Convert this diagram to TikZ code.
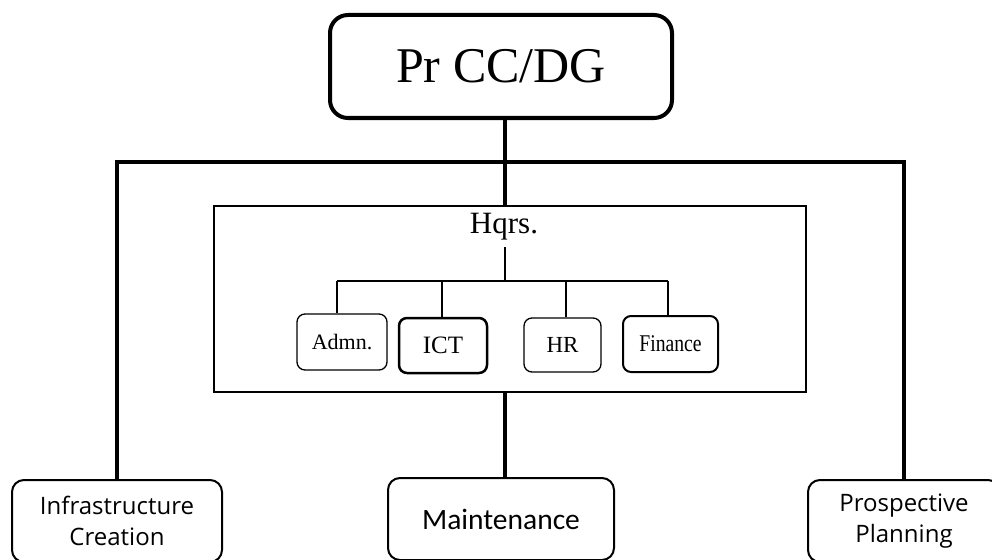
\documentclass[tikz,border=0pt]{standalone}
\usepackage{fontspec}
\usepackage{graphicx}
\setmainfont{Liberation Serif}
\newfontfamily\bodysans{Open Sans}
\newfontfamily\labelsans{Carlito}
\begin{document}
\begin{tikzpicture}[x=1pt,y=-1pt,
  chief/.style={draw, line width=4pt, rounded corners=18pt, inner sep=0pt,
    minimum width=342pt, minimum height=103pt, font=\fontsize{50}{56}\selectfont},
  office/.style={draw, line width=2pt, inner sep=0pt,
    minimum width=592pt, minimum height=186pt},
  unit/.style={draw, line width=1.3pt, rounded corners=8pt, inner sep=0pt},
  branch/.style={draw, line width=2pt, rounded corners=12pt, inner sep=0pt,
    align=center},
  trunk/.style={line width=4pt},
  twig/.style={line width=1.8pt}]
\useasboundingbox (0,0) rectangle (992,559);

% chief executive box
\node[chief] (top) at (501,66.5) {Pr CC/DG};

% headquarters frame and its sections
\node[office] (hq) at (510,299) {};
\node[font=\fontsize{31}{36}\selectfont, anchor=base] (hqlabel) at (504,233) {Hqrs.};

\node[unit, minimum width=90pt, minimum height=56pt,
  font=\fontsize{22}{26}\selectfont] (admn) at (342,342) {Admn.};
\node[unit, line width=2.5pt, minimum width=88pt, minimum height=55pt,
  font=\fontsize{25}{30}\selectfont] (ict) at (443,345.5) {ICT};
\node[unit, minimum width=77pt, minimum height=54pt,
  font=\fontsize{23}{28}\selectfont] (hr) at (562.5,345) {HR};
\node[unit, line width=2pt, minimum width=95pt, minimum height=56pt,
  font=\fontsize{24}{28}\selectfont] (fin) at (670.5,344) {\scalebox{0.82}[1]{Finance}};

% field branches
\node[branch, minimum width=210pt, minimum height=82pt,
  font=\bodysans\fontsize{24}{31}\selectfont] (infra) at (117,521) {Infrastructure\\Creation};
\node[branch, minimum width=226pt, minimum height=82pt,
  font=\labelsans\fontsize{29.5}{34}\selectfont] (maint) at (501,519) {Maintenance};
\node[branch, minimum width=192pt, minimum height=82pt,
  font=\bodysans\fontsize{24}{31}\selectfont] (prosp) at (904,521) {Prospective\\Planning};

% junction points
\coordinate (jc) at (505,162);
\coordinate (jl) at (117,162);
\coordinate (jr) at (904,162);
\coordinate (bar) at (505,281);
\coordinate (bA) at (337,281);
\coordinate (bI) at (442,281);
\coordinate (bH) at (566,281);
\coordinate (bF) at (668,281);

% main connectors
\draw[trunk] (top.south -| jc) -- (hq.north -| jc);
\draw[trunk, line join=miter] (infra.north) -- (jl) -- (jr) -- (prosp.north);
\draw[trunk] (hq.south -| jc) -- (maint.north -| jc);

% headquarters connectors
\draw[twig] (hqlabel.south -| bar) ++(0,4) -- (bar);
\draw[twig] (bA) -- (bF);
\draw[twig] (bA) -- (bA |- admn.north);
\draw[twig] (bI) -- (bI |- ict.north);
\draw[twig] (bH) -- (bH |- hr.north);
\draw[twig] (bF) -- (bF |- fin.north);
\end{tikzpicture}
\end{document}
